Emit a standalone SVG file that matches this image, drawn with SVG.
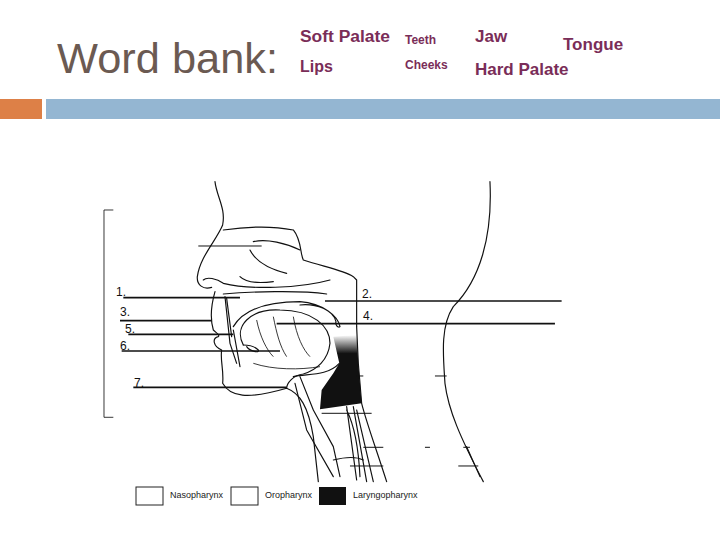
<svg xmlns="http://www.w3.org/2000/svg" width="720" height="540" viewBox="0 0 720 540">
<style>
.wb{font-family:"Liberation Sans",Arial,sans-serif;font-weight:bold;fill:#7a2d58}
.d{fill:none;stroke:#111;stroke-width:3.5;stroke-linecap:round;stroke-linejoin:round}
.t{fill:none;stroke:#111;stroke-width:2.5}
.lab{font-family:"Liberation Sans",Arial,sans-serif;font-size:9px;fill:#222}
.num{font-family:"Liberation Sans",Arial,sans-serif;font-size:12px;fill:#111}
</style>
<defs>
<linearGradient id="lg" x1="0" y1="0" x2="0" y2="1">
<stop offset="0" stop-color="#111" stop-opacity="0"/>
<stop offset="0.25" stop-color="#111"/>
<stop offset="1" stop-color="#111"/>
</linearGradient>
</defs>
<rect width="720" height="540" fill="#fff"/>
<g id="header">
<text x="57" y="73" font-family="Liberation Sans,Arial,sans-serif" font-size="42" fill="#6b5a52" textLength="221" lengthAdjust="spacingAndGlyphs">Word bank:</text>
<text class="wb" x="300" y="42" font-size="16" textLength="90" lengthAdjust="spacingAndGlyphs">Soft Palate</text>
<text class="wb" x="405" y="44" font-size="12">Teeth</text>
<text class="wb" x="475" y="42" font-size="17">Jaw</text>
<text class="wb" x="563" y="50" font-size="17">Tongue</text>
<text class="wb" x="300" y="72" font-size="16">Lips</text>
<text class="wb" x="405" y="69" font-size="12">Cheeks</text>
<text class="wb" x="475" y="75" font-size="17">Hard Palate</text>
<rect x="0" y="99" width="42" height="20" fill="#dd8047"/>
<rect x="46" y="99" width="674" height="20" fill="#94b6d2"/>
</g>
<g id="diagram" transform="translate(100,170) scale(0.3333)">
<path class="t" d="M40,120 H12 V742 H40"/>
<path d="M700,500 L770,495 L775,580 L785,700 L660,718 L665,660 L700,610 L718,580 Z" fill="url(#lg)"/>
<path class="d" d="M345,35 C350,80 378,115 368,165 C350,210 300,260 292,320 C290,345 310,360 335,352"/>
<path class="d" d="M345,365 C335,400 328,440 340,480 C350,490 360,495 355,500 C335,505 340,530 365,540 C360,570 372,600 368,640 C390,680 440,690 560,655 C600,670 625,710 640,800 L655,935"/>
<path class="d" d="M370,180 C440,170 520,168 580,180 C605,210 600,250 610,270 C670,290 730,300 760,320 L770,330 L770,470 L775,580 L785,700 C800,760 830,840 860,935"/>
<path class="d" d="M310,330 C320,320 350,325 370,340 C450,360 600,355 690,330"/>
<path class="d" d="M460,215 C500,205 560,220 600,240 M450,240 C470,280 520,300 560,310 M420,320 C440,340 480,340 520,335"/>
<path class="d" d="M370,372 C450,365 600,360 680,372"/>
<path class="d" d="M400,470 C430,420 500,395 600,395 C670,400 715,440 720,470 C715,475 705,465 708,455 C700,420 650,400 600,405"/>
<path class="d" d="M430,525 C400,470 450,415 540,420 C640,420 690,470 690,520 C685,570 650,600 610,612 C580,615 560,640 560,655"/>
<path class="d" d="M440,530 C450,545 480,550 475,540 C460,525 440,525 430,525"/>
<path class="d" d="M375,380 L390,520 L410,580 M380,385 L395,500 M400,480 L420,590"/>
<path class="t" d="M470,450 C480,500 500,540 520,560 M520,440 C530,490 540,530 560,560 M580,440 C590,500 610,540 630,560 M460,580 C520,600 600,600 660,590"/>
<path class="d" d="M580,620 C620,610 680,620 718,580 M600,620 L640,720 M585,640 L620,780 L700,920 M640,720 L700,830 L720,920 M740,710 L770,930 M760,710 L800,935 M770,720 L820,935 M740,720 C760,760 775,820 780,920"/>
<path class="d" d="M700,870 C740,860 770,860 790,870"/>
<path class="d" d="M1170,35 C1178,200 1140,330 1060,410 C1020,470 1030,560 1035,640 C1045,720 1080,800 1150,935"/>
<path class="d" d="M1100,830 L1140,920"/>
<g stroke="#111" stroke-width="5" fill="none">
<path d="M70,383 H420"/>
<path d="M60,452 H335"/>
<path d="M85,493 H400"/>
<path d="M65,543 H540"/>
<path d="M100,652 H560"/>
<path d="M675,393 H1385"/>
<path d="M530,461 H1365"/>
</g>
<g stroke="#111" stroke-width="3" fill="none">
<path d="M295,228 H485"/>
<path d="M770,618 H790 M1005,618 H1040"/>
<path d="M665,730 H815"/>
<path d="M790,832 H850 M975,832 H990 M1090,832 H1110"/>
<path d="M750,888 H850 M1075,888 H1135"/>
</g>
</g>
<g id="numbers">
<text class="num" x="116" y="296">1.</text>
<text class="num" x="362" y="298">2.</text>
<text class="num" x="120" y="316">3.</text>
<text class="num" x="363" y="320">4.</text>
<text class="num" x="125" y="333">5.</text>
<text class="num" x="120" y="350">6.</text>
<text class="num" x="134" y="387">7.</text>
</g>
<g id="legend">
<rect x="136" y="487" width="27" height="18" fill="#fff" stroke="#222" stroke-width="1"/>
<text class="lab" x="170" y="498">Nasopharynx</text>
<rect x="231" y="487" width="27" height="18" fill="#fff" stroke="#222" stroke-width="1"/>
<text class="lab" x="265" y="498">Oropharynx</text>
<rect x="319" y="487" width="27" height="18" fill="#111"/>
<text class="lab" x="353" y="498">Laryngopharynx</text>
</g>
</svg>
